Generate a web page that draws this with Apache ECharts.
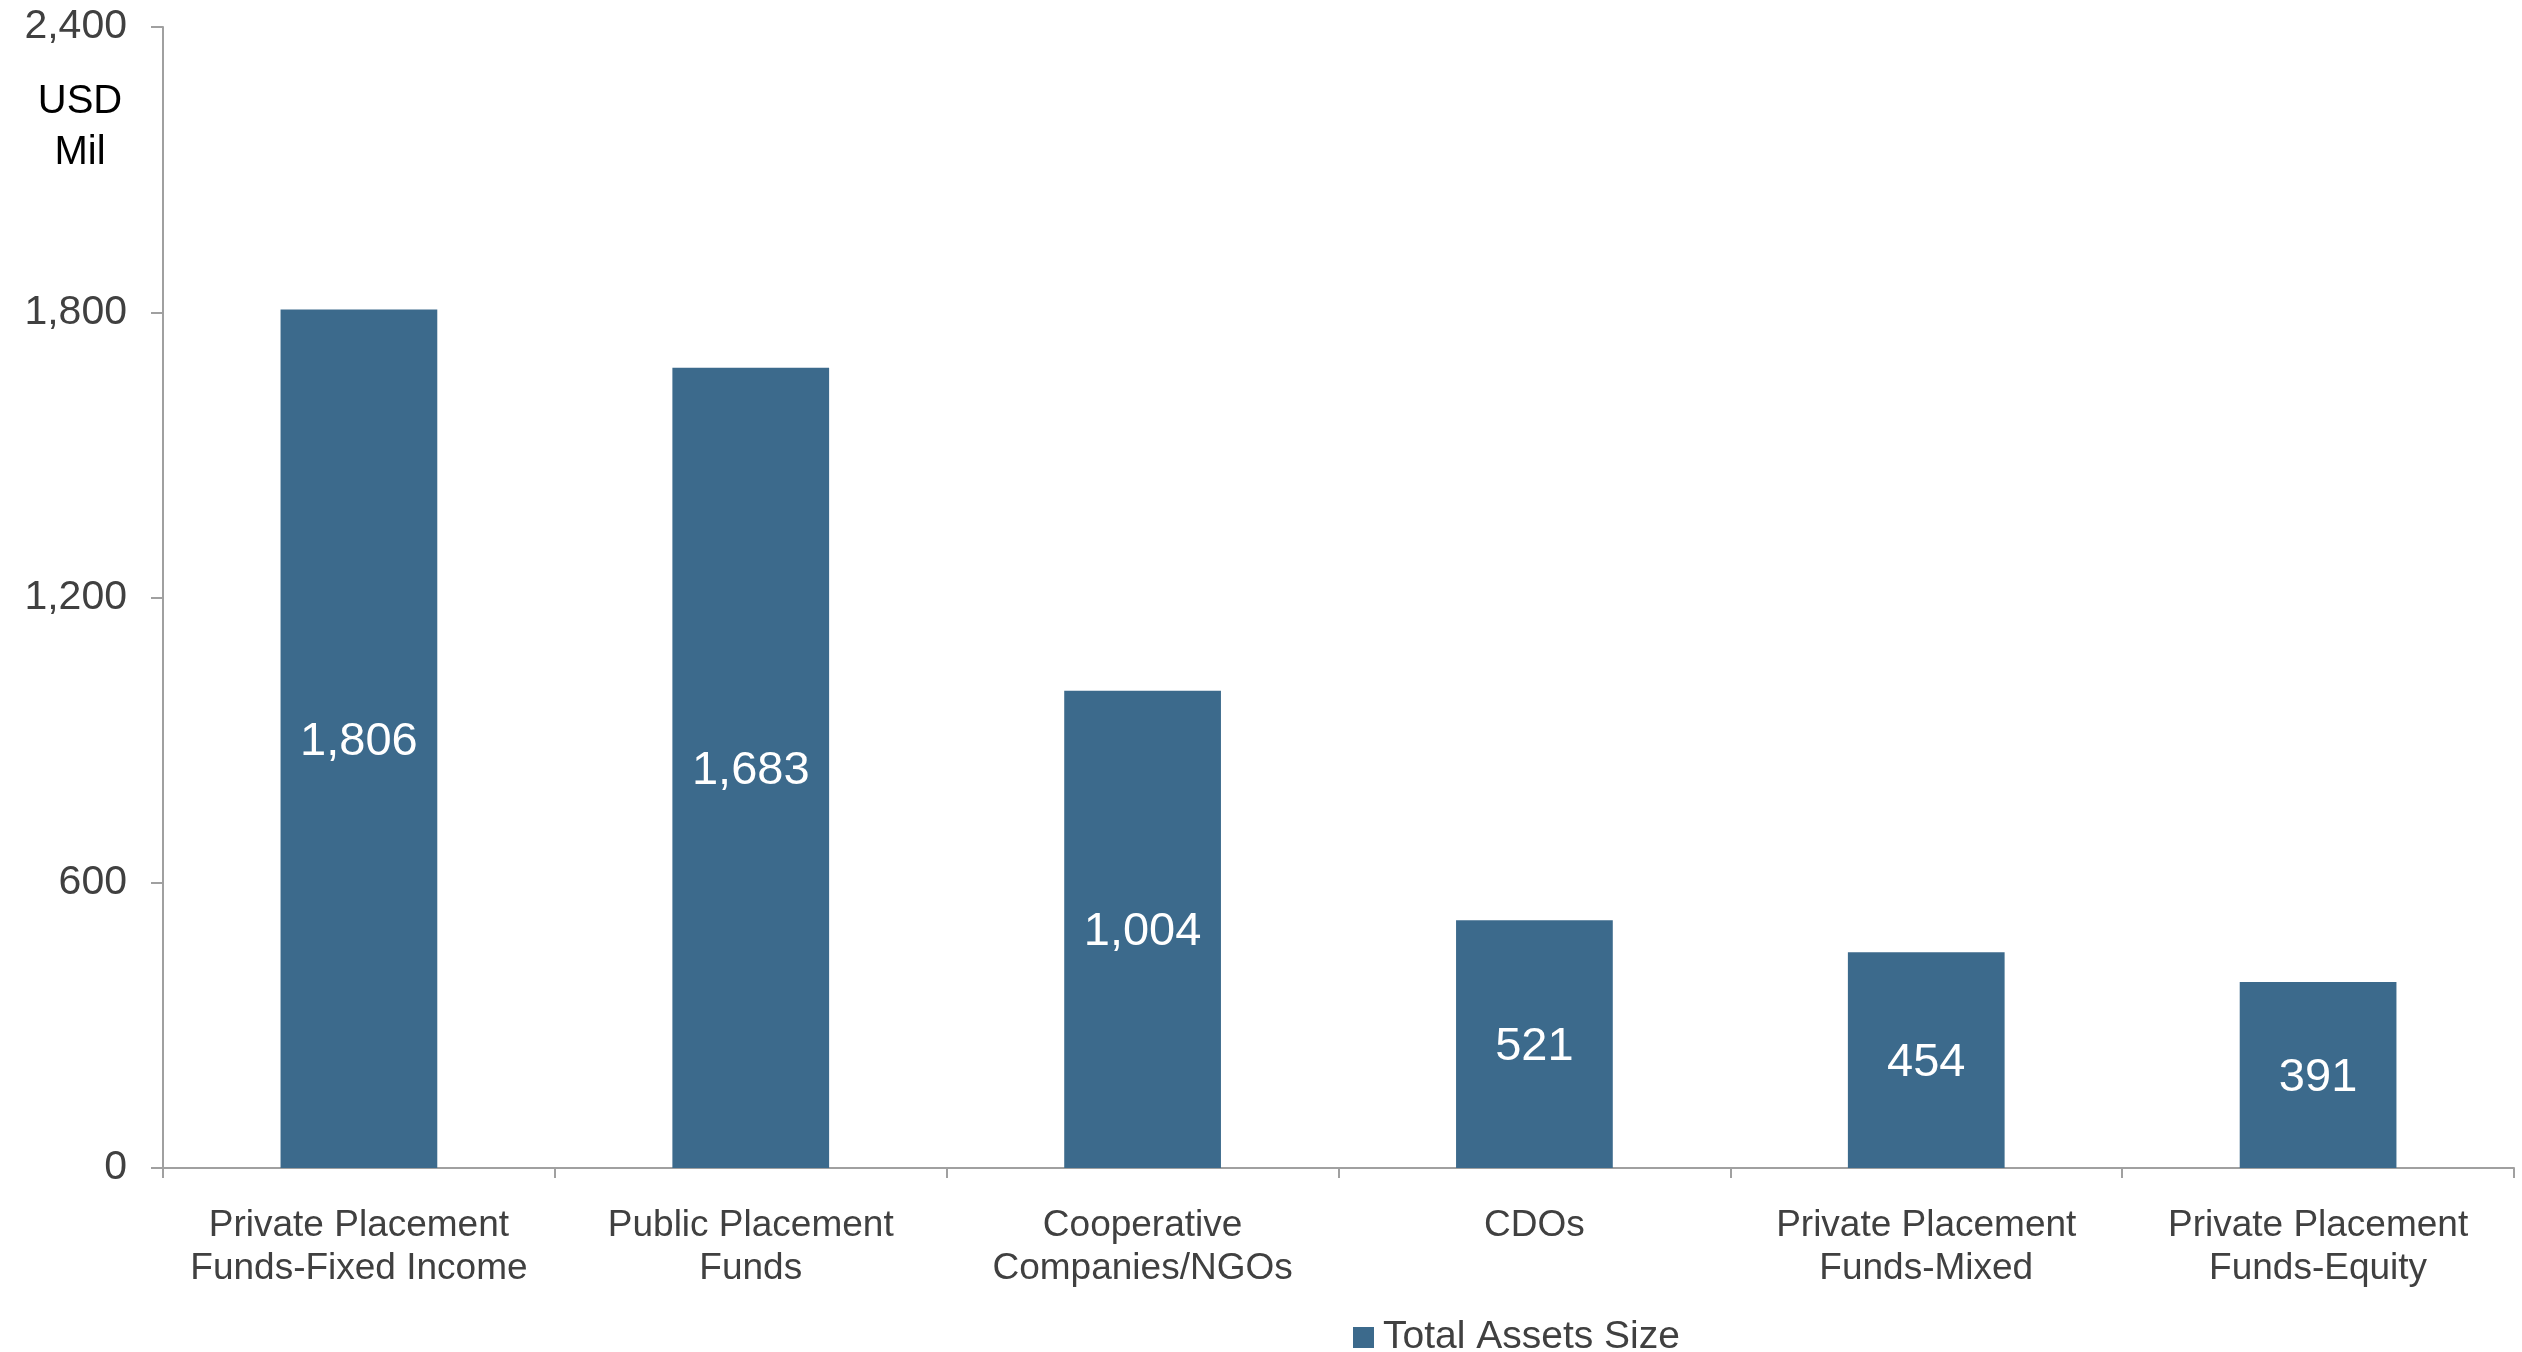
<!DOCTYPE html>
<html>
<head>
<meta charset="utf-8">
<title>Total Assets Size</title>
<script src="https://cdn.jsdelivr.net/npm/echarts@6/dist/echarts.min.js"></script>
<style>
  html, body { margin: 0; padding: 0; background: #ffffff; }
  #chart { width: 2522px; height: 1352px; }
</style>
</head>
<body>
<div id="chart"></div>
<script>
// Asset classes along the x axis
const categories = [
  'Private Placement\nFunds-Fixed Income',
  'Public Placement\nFunds',
  'Cooperative\nCompanies/NGOs',
  'CDOs',
  'Private Placement\nFunds-Mixed',
  'Private Placement\nFunds-Equity'
];

// Total assets, USD millions
const totalAssets = [1806, 1683, 1004, 521, 454, 391];

// Value axis range and step
const yMin = 0;
const yMax = 2400;
const yStep = 600;

const seriesName = 'Total Assets Size';
const unitLabel = 'USD\nMil';

const FONT = '"Liberation Sans", Arial, Helvetica, sans-serif';
const BAR = '#3C6A8C';
const AXIS = '#A0A0A0';
const TEXT = '#404040';

const chart = echarts.init(document.getElementById('chart'), null, { renderer: 'canvas' });

chart.setOption({
  animation: false,
  backgroundColor: '#ffffff',
  textStyle: { fontFamily: FONT },
  grid: { left: 163, right: 8, top: 27, bottom: 184, containLabel: false },
  graphic: [{
    type: 'text',
    x: 80,
    y: 76,
    style: {
      text: unitLabel,
      font: '40px ' + FONT,
      fontSize: 40,
      lineHeight: 51,
      fill: '#000000',
      align: 'center',
      textAlign: 'center',
      verticalAlign: 'top'
    }
  }],
  legend: {
    data: [seriesName],
    left: 1348,
    top: 1313,
    itemWidth: 21,
    itemHeight: 21,
    icon: 'rect',
    itemStyle: { color: BAR },
    textStyle: { fontFamily: FONT, fontSize: 39, color: TEXT, padding: [0, 0, 0, 4] },
    selectedMode: false
  },
  xAxis: {
    type: 'category',
    data: categories,
    axisLine: { show: true, lineStyle: { color: AXIS, width: 2 } },
    axisTick: { show: true, alignWithLabel: false, length: 10, lineStyle: { color: AXIS, width: 2 } },
    axisLabel: {
      fontFamily: FONT,
      fontSize: 37,
      lineHeight: 43,
      color: TEXT,
      margin: 36,
      interval: 0
    }
  },
  yAxis: {
    type: 'value',
    min: yMin,
    max: yMax,
    interval: yStep,
    splitLine: { show: false },
    axisLine: { show: true, lineStyle: { color: AXIS, width: 2 } },
    axisTick: { show: true, inside: false, length: 12, lineStyle: { color: AXIS, width: 2 } },
    axisLabel: {
      fontFamily: FONT,
      fontSize: 41,
      color: TEXT,
      margin: 36,
      formatter: v => v.toLocaleString('en-US')
    }
  },
  series: [{
    name: seriesName,
    type: 'bar',
    data: totalAssets,
    barCategoryGap: '60%',
    itemStyle: { color: BAR },
    label: {
      show: true,
      position: 'inside',
      offset: [0, 3],
      color: '#ffffff',
      fontFamily: FONT,
      fontSize: 47,
      formatter: p => p.value.toLocaleString('en-US')
    }
  }]
});
</script>
</body>
</html>
